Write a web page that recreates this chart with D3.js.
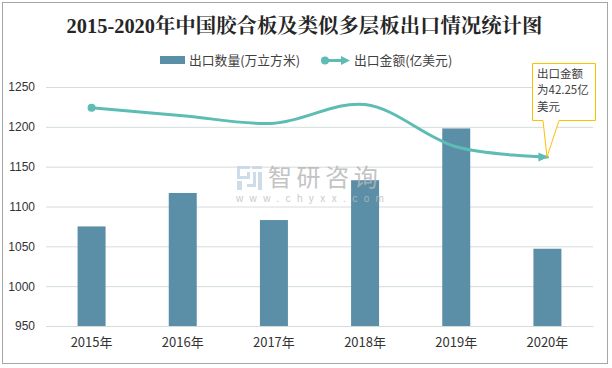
<!DOCTYPE html>
<html>
<head>
<meta charset="utf-8">
<script src="https://cdn.jsdelivr.net/npm/d3@7"></script>
<style>
  html, body { margin: 0; padding: 0; background: #fff; }
  svg { display: block; }
  text { font-family: "Noto Sans CJK SC", "Liberation Sans", sans-serif; }
</style>
</head>
<body>
<script>
const years = ["2015年", "2016年", "2017年", "2018年", "2019年", "2020年"];
const quantity = [1075, 1117, 1083, 1133, 1198, 1047];
// the amount line has a hidden axis, so these are read against the left one
const amountOnAxis = [1224, 1214, 1204.5, 1228, 1175, 1162];
const yTicks = [950, 1000, 1050, 1100, 1150, 1200, 1250];
const calloutLines = ["出口金额", "为42.25亿", "美元"];

const width = 612, height = 368;
const margin = {top: 87, right: 19, bottom: 42, left: 46};

const svg = d3.select("body").append("svg")
    .attr("width", width)
    .attr("height", height);

const x = d3.scaleBand()
    .domain(years)
    .range([margin.left, width - margin.right]);
const y = d3.scaleLinear()
    .domain([950, 1250])
    .range([height - margin.bottom, margin.top]);

const barColor = "#5b8fa8";
const lineColor = "#5dbcb3";

// outer frame
svg.append("rect")
    .attr("x", 2.5).attr("y", 2.5)
    .attr("width", 605).attr("height", 361)
    .attr("fill", "#fff")
    .attr("stroke", "#a6a6a6")
    .attr("stroke-width", 1);

svg.append("text")
    .attr("x", 304.5).attr("y", 33)
    .attr("text-anchor", "middle")
    .attr("fill", "#262626")
    .style("font-family", '"Liberation Serif", "Noto Serif CJK SC", "Noto Sans CJK SC", serif')
    .style("font-size", "20.4px")
    .style("font-weight", "bold")
    .text("2015-2020年中国胶合板及类似多层板出口情况统计图");

// grid and y labels
const yAxis = svg.append("g")
    .attr("transform", `translate(${margin.left},0)`)
    .call(d3.axisLeft(y)
        .tickValues(yTicks)
        .tickFormat(d3.format("d"))
        .tickSize(-(width - margin.left - margin.right))
        .tickPadding(11));
yAxis.select(".domain").remove();
yAxis.selectAll("line").attr("stroke", "#d4dcdc");
yAxis.selectAll("text")
    .attr("fill", "#333")
    .style("font-family", '"Liberation Sans", sans-serif')
    .style("font-size", "12px");

// bars
svg.append("g").selectAll("rect")
    .data(quantity)
    .join("rect")
    .attr("x", (d, i) => x(years[i]) + x.bandwidth() / 2 - 14)
    .attr("y", d => y(d))
    .attr("width", 28)
    .attr("height", d => y(950) - y(d))
    .attr("fill", barColor);

// watermark sits over the bars, half see-through
const mark = svg.append("g").attr("opacity", 0.8);
mark.append("path")
    .attr("d", "M237 166h13v3h-10v7h7v-4h3v7h-13zM237 181h5v9h-5zM252 166h10v3h-10zM253 172h3v15h-9v-3h6zM258 172h4v18h-4z")
    .attr("fill", "#c3d4e6");
mark.append("text")
    .attr("x", 268).attr("y", 186)
    .attr("fill", "#b5b5b5")
    .style("font-size", "24px")
    .style("letter-spacing", "4.6px")
    .text("智研咨询");
mark.append("text")
    .attr("x", 236).attr("y", 202)
    .attr("fill", "#bdbdbd")
    .style("font-family", '"Liberation Sans", sans-serif')
    .style("font-size", "10px")
    .style("letter-spacing", "6.4px")
    .text("www.chyxx.com");

// x labels
const xAxis = svg.append("g")
    .attr("transform", `translate(0,${y(950)})`)
    .call(d3.axisBottom(x).tickSize(0).tickPadding(12));
xAxis.select(".domain").attr("stroke", "#d4dcdc");
xAxis.selectAll("text")
    .attr("fill", "#333")
    .style("font-size", "13px");

// smooth line
const lineGen = d3.line()
    .x((d, i) => x(years[i]) + x.bandwidth() / 2)
    .y(d => y(d))
    .curve(d3.curveCatmullRom.alpha(0.5));
svg.append("path")
    .attr("d", lineGen(amountOnAxis))
    .attr("fill", "none")
    .attr("stroke", lineColor)
    .attr("stroke-width", 3)
    .attr("stroke-linecap", "round");

const firstX = x(years[0]) + x.bandwidth() / 2;
const lastX = x(years[5]) + x.bandwidth() / 2;
const lastY = y(amountOnAxis[5]);
svg.append("circle")
    .attr("cx", firstX).attr("cy", y(amountOnAxis[0]))
    .attr("r", 4)
    .attr("fill", lineColor);
svg.append("path")
    .attr("d", d3.line()([[lastX + 1, lastY], [lastX - 9, lastY - 4.5], [lastX - 9, lastY + 4.5]]) + "Z")
    .attr("fill", lineColor);

// legend
const legend = svg.append("g");
legend.append("rect")
    .attr("x", 160).attr("y", 56)
    .attr("width", 25).attr("height", 8)
    .attr("fill", barColor);
legend.append("text")
    .attr("x", 189).attr("y", 64.5)
    .attr("fill", "#404040")
    .style("font-size", "12.8px")
    .text("出口数量(万立方米)");
legend.append("line")
    .attr("x1", 325).attr("x2", 346)
    .attr("y1", 60.5).attr("y2", 60.5)
    .attr("stroke", lineColor)
    .attr("stroke-width", 3);
legend.append("circle")
    .attr("cx", 325).attr("cy", 60.5)
    .attr("r", 4)
    .attr("fill", lineColor);
legend.append("path")
    .attr("d", "M350 60.5L341 56V65Z")
    .attr("fill", lineColor);
legend.append("text")
    .attr("x", 354).attr("y", 64.5)
    .attr("fill", "#404040")
    .style("font-size", "12.8px")
    .text("出口金额(亿美元)");

// callout
svg.append("path")
    .attr("d", "M532.5 63.5H595.5V120.5H559L547 157L543 120.5H532.5Z")
    .attr("fill", "#fff")
    .attr("stroke", "#ffc000")
    .attr("stroke-width", 1);
svg.append("g").selectAll("text")
    .data(calloutLines)
    .join("text")
    .attr("x", 537)
    .attr("y", (d, i) => 78 + i * 16.3)
    .attr("fill", "#404040")
    .style("font-size", "11.5px")
    .text(d => d);
</script>
</body>
</html>
